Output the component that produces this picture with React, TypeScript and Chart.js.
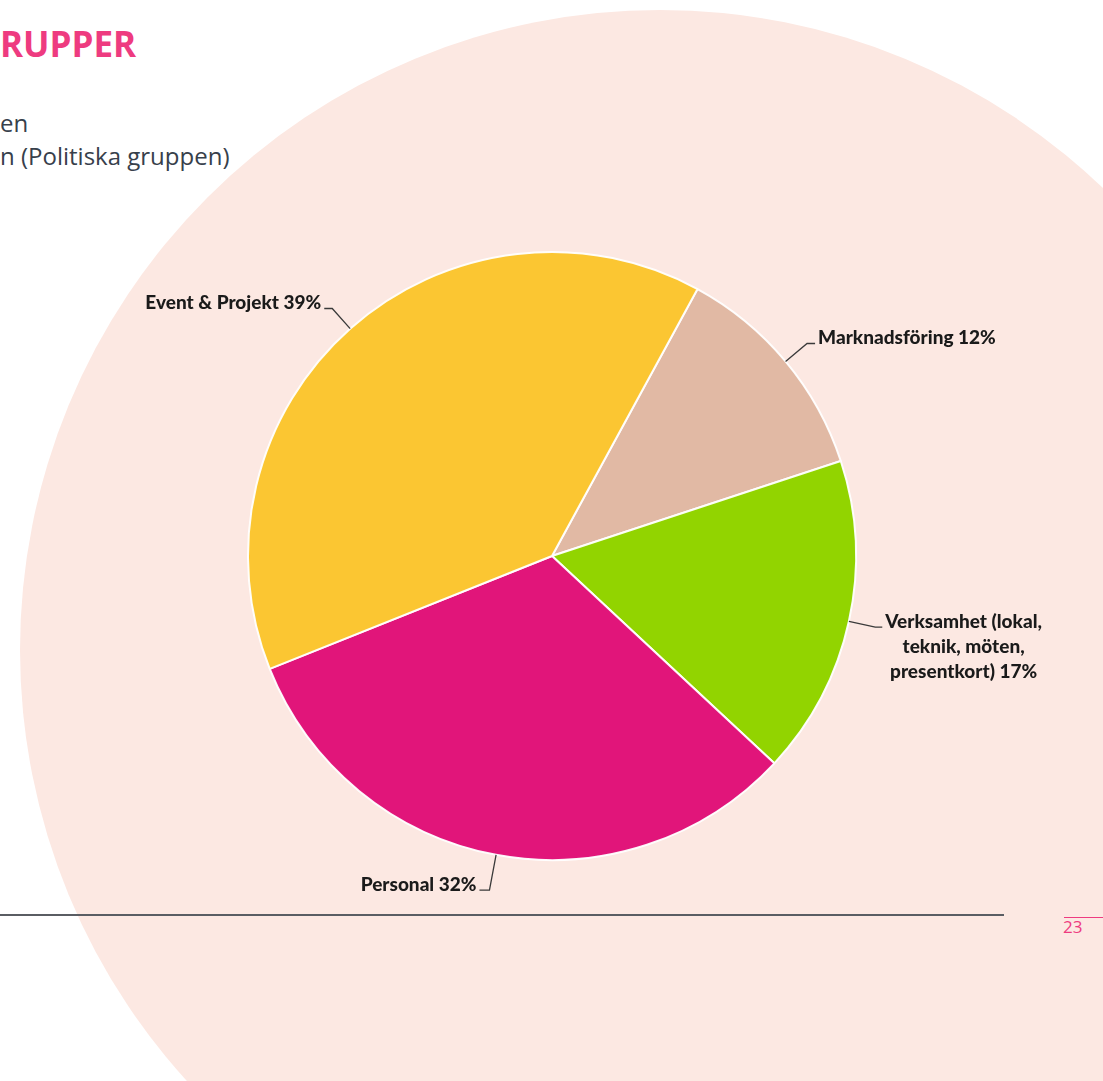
import React, { useEffect, useRef } from "react";
import { Chart, registerables } from "chart.js";

Chart.register(...registerables);

// ---- data ----
const categories: string[][] = [
  ["Marknadsföring"],
  ["Verksamhet (lokal,", "teknik, möten,", "presentkort)"],
  ["Personal"],
  ["Event & Projekt"],
];
const shares: number[] = [12, 17, 32, 39];
const sliceColors: string[] = ["#E1B9A4", "#92D400", "#E1157A", "#FBC632"];

// ---- styling ----
const LEADER_LEN = [28, 27, 36, 27];
const LEADER_H = [8, 7, 10, 8];
const LABEL_FONT = '900 19px Lato, "Open Sans", sans-serif';
const LINE_H = 25;

const labelPlugin = {
  id: "outerLabels",
  afterDatasetsDraw(chart: any) {
    const ctx = chart.ctx as CanvasRenderingContext2D;
    const meta = chart.getDatasetMeta(0);
    ctx.save();
    ctx.font = LABEL_FONT;
    ctx.fillStyle = "#1a1a1a";
    ctx.strokeStyle = "#3a3a3a";
    ctx.lineWidth = 1.3;
    meta.data.forEach((arc: any, i: number) => {
      const { x, y, startAngle, endAngle, outerRadius } = arc.getProps(
        ["x", "y", "startAngle", "endAngle", "outerRadius"],
        true
      );
      const mid = (startAngle + endAngle) / 2;
      const dx = Math.cos(mid);
      const dy = Math.sin(mid);
      const ex = x + dx * outerRadius;
      const ey = y + dy * outerRadius;
      const L = LEADER_LEN[i] ?? 28;
      const bx = x + dx * (outerRadius + L);
      const by = y + dy * (outerRadius + L);
      const right = dx >= 0;
      const hx = bx + (right ? 1 : -1) * (LEADER_H[i] ?? 8);
      ctx.beginPath();
      ctx.moveTo(ex, ey);
      ctx.lineTo(bx, by);
      ctx.lineTo(hx, by);
      ctx.stroke();

      const lines = categories[i].slice();
      lines[lines.length - 1] = lines[lines.length - 1] + " " + shares[i] + "%";
      const widths = lines.map((l) => ctx.measureText(l).width);
      const bw = Math.max(...widths);
      const left = right ? hx + 3 : hx - 3 - bw;
      ctx.textBaseline = "alphabetic";
      ctx.textAlign = "center";
      lines.forEach((l, k) => {
        const ty = by + 1 + k * LINE_H;
        ctx.fillText(l, left + bw / 2, ty);
      });
    });
    ctx.restore();
  },
};

export default function App() {
  const ref = useRef<HTMLCanvasElement | null>(null);
  useEffect(() => {
    document.body.style.margin = "0";
    if (!ref.current) return;
    const chart = new Chart(ref.current, {
      type: "pie",
      data: {
        labels: categories.map((c) => c.join(" ")),
        datasets: [
          {
            data: shares,
            backgroundColor: sliceColors,
            borderColor: "rgba(255,255,255,0.95)",
            borderWidth: 2,
            radius: 304,
          } as any,
        ],
      },
      options: {
        responsive: false,
        animation: false,
        rotation: 28.6,
        layout: { padding: { left: 202, right: 201, top: 206, bottom: 175 } },
        plugins: {
          legend: { display: false },
          tooltip: { enabled: false },
        },
      },
      plugins: [labelPlugin],
    });
    return () => chart.destroy();
  }, []);

  return (
    <div
      style={{
        position: "absolute",
        left: 0,
        top: 0,
        width: 1103,
        height: 1081,
        overflow: "hidden",
        background: "#ffffff",
        fontFamily: '"Open Sans", sans-serif',
      }}
    >
      <div
        style={{
          position: "absolute",
          left: 20,
          top: 10,
          width: 1280,
          height: 1280,
          borderRadius: "50%",
          background: "#FCE8E2",
        }}
      />
      <div
        style={{
          position: "absolute",
          left: 0,
          top: 20,
          fontSize: 35,
          fontWeight: 700,
          color: "#EE3B80",
          lineHeight: "48px",
          whiteSpace: "nowrap",
        }}
      >
        RUPPER
      </div>
      <div
        style={{
          position: "absolute",
          left: 0,
          top: 106,
          fontSize: 24,
          color: "#37404B",
          lineHeight: "33px",
          whiteSpace: "nowrap",
        }}
      >
        <div>en</div>
        <div>n (Politiska gruppen)</div>
      </div>
      <div
        style={{
          position: "absolute",
          left: 0,
          top: 914,
          width: 1004,
          height: 2,
          background: "#5a5d63",
        }}
      />
      <div
        style={{
          position: "absolute",
          left: 1064,
          top: 917,
          width: 39,
          height: 1,
          background: "#EE3B80",
        }}
      />
      <div
        style={{
          position: "absolute",
          left: 1063,
          top: 916,
          fontSize: 17,
          color: "#EE3B80",
          lineHeight: "22px",
        }}
      >
        23
      </div>
      <canvas
        ref={ref}
        width={1103}
        height={1081}
        style={{ position: "absolute", left: 0, top: 0, width: 1103, height: 1081 }}
      />
    </div>
  );
}
